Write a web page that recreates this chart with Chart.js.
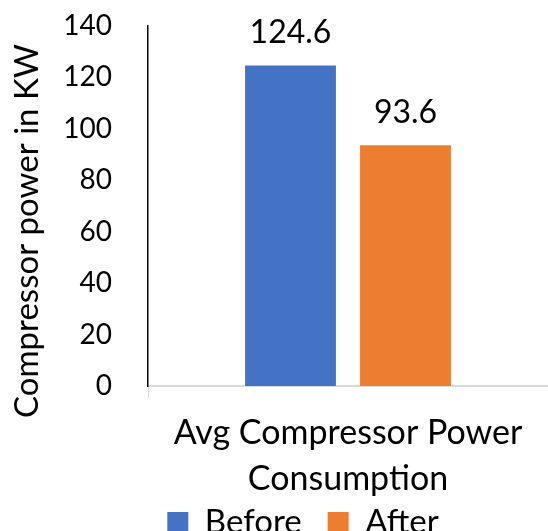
<!DOCTYPE html>
<html>
<head>
<meta charset="utf-8">
<script src="https://cdn.jsdelivr.net/npm/chart.js@4/dist/chart.umd.min.js"></script>
<style>
html,body{margin:0;padding:0;background:#fff;}
#wrap{width:548px;height:531px;position:relative;}
</style>
</head>
<body>
<div id="wrap"><canvas id="c" width="548" height="531"></canvas></div>
<script>
const categories = [["Avg Compressor Power", "Consumption"]];
const seriesNames = ["Before", "After"];
const beforeValues = [124.6];
const afterValues = [93.6];
const seriesColors = ["#4472C4", "#ED7D31"];
const yTitle = "Compressor power in KW";
const yMin = 0, yMax = 140, yStep = 20;

const FONT = "Lato, 'Open Sans', sans-serif";
const LEGEND_SHIFT_X = 29;
const LEGEND_SHIFT_Y = 18;

const valueLabels = {
  id: 'valueLabels',
  afterDatasetsDraw(chart) {
    const ctx = chart.ctx;
    ctx.save();
    ctx.font = "32px " + FONT;
    ctx.fillStyle = "#000";
    ctx.textAlign = "center";
    ctx.textBaseline = "middle";
    chart.data.datasets.forEach((ds, i) => {
      const meta = chart.getDatasetMeta(i);
      meta.data.forEach((bar, j) => {
        ctx.fillText(String(ds.data[j]), bar.x, bar.y - 33);
      });
    });
    ctx.restore();
  }
};

const yTitlePlugin = {
  id: 'yTitlePlugin',
  afterDraw(chart) {
    const ctx = chart.ctx;
    ctx.save();
    ctx.font = "33px " + FONT;
    ctx.fillStyle = "#000";
    ctx.textAlign = "center";
    ctx.textBaseline = "middle";
    ctx.translate(27, 231);
    ctx.rotate(-Math.PI / 2);
    ctx.fillText(yTitle, 0, 0);
    ctx.restore();
  }
};

const legendShift = {
  id: 'legendShift',
  afterLayout(chart) {
    const lg = chart.legend;
    if (lg) {
      lg.left += LEGEND_SHIFT_X; lg.right += LEGEND_SHIFT_X;
      lg.top += LEGEND_SHIFT_Y; lg.bottom += LEGEND_SHIFT_Y;
    }
    const xs = chart.scales.x;
    if (xs) { xs.bottom = chart.height; }
  }
};

new Chart(document.getElementById('c'), {
  type: 'bar',
  data: {
    labels: categories,
    datasets: [
      { label: seriesNames[0], data: beforeValues, backgroundColor: seriesColors[0], categoryPercentage: 0.575, barPercentage: 0.79 },
      { label: seriesNames[1], data: afterValues, backgroundColor: seriesColors[1], categoryPercentage: 0.575, barPercentage: 0.79 }
    ]
  },
  options: {
    responsive: false,
    animation: false,
    devicePixelRatio: 1,
    layout: { padding: { top: 0, left: 0, right: 0, bottom: 0 } },
    plugins: {
      tooltip: { enabled: false },
      legend: {
        position: 'bottom',
        labels: {
          font: { family: FONT, size: 33 },
          color: '#000',
          boxWidth: 21,
          boxHeight: 21,
          padding: 26
        }
      }
    },
    scales: {
      x: {
        grid: { display: true, drawOnChartArea: false, drawTicks: true, tickLength: 12, color: '#d9d9d9', offset: true },
        border: { display: true, color: '#d9d9d9', width: 2 },
        ticks: { font: { family: FONT, size: 34, lineHeight: 1.36 }, color: '#000', padding: 12, maxRotation: 0 },
        afterFit(scale) {
          const lg = scale.chart.legend ? scale.chart.legend.height : 0;
          scale.height = scale.chart.height - lg - 386;
        }
      },
      y: {
        min: yMin, max: yMax,
        grid: { display: false, drawTicks: false },
        border: { display: true, color: '#000', width: 1.5 },
        ticks: { stepSize: yStep, font: { family: FONT, size: 28 }, color: '#000', padding: 36 },
        afterFit(scale) { scale.width = 148; scale.paddingTop = 26; scale.paddingBottom = 0; }
      }
    }
  },
  plugins: [valueLabels, yTitlePlugin, legendShift]
});
</script>
</body>
</html>
